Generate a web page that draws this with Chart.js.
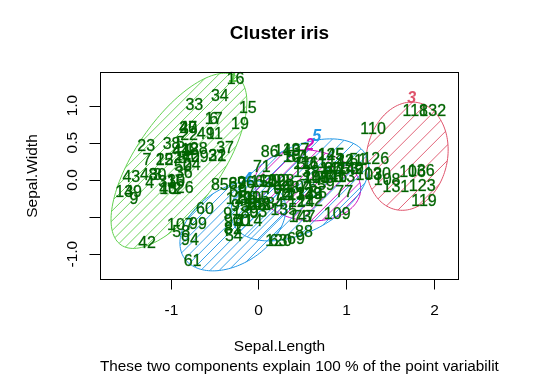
<!DOCTYPE html>
<html>
<head>
<meta charset="utf-8">
<script src="https://cdn.jsdelivr.net/npm/chart.js@4.4.1/dist/chart.umd.min.js"></script>
<style>
  html, body { margin: 0; padding: 0; background: #fff; }
  #wrap { width: 552px; height: 383px; }
</style>
</head>
<body>
<div id="wrap"><canvas id="grafico" width="552" height="383"></canvas></div>
<script>
// first two components for the 150 iris rows
const compX = [
  -0.78, -0.93, -1.15, -1.24, -0.89, -0.51, -1.27, -0.87, -1.42, -0.94,
  -0.50, -1.07, -1.03, -1.53, -0.12, -0.26, -0.51, -0.78, -0.21, -0.80,
  -0.47, -0.79, -1.28, -0.76, -1.07, -0.84, -0.87, -0.68, -0.67, -1.15,
  -1.04, -0.47, -0.73, -0.44, -0.94, -0.85, -0.38, -0.99, -1.43, -0.77,
  -0.88, -1.27, -1.45, -0.88, -0.80, -1.03, -0.80, -1.25, -0.60, -0.86,
  1.14, 0.54, 1.05, -0.28, 0.68, -0.12, 0.43, -0.88, 0.77, -0.61,
  -0.75, 0.06, 0.23, 0.27, -0.23, 0.85, -0.24, -0.01, 0.43, -0.20,
  0.04, 0.28, 0.50, 0.28, 0.57, 0.76, 0.98, 0.86, 0.17, -0.10,
  -0.29, -0.29, -0.01, 0.19, -0.44, 0.13, 0.85, 0.52, -0.24, -0.29,
  -0.30, 0.26, 0.00, -0.78, -0.21, -0.14, -0.13, 0.37, -0.69, -0.12,
  0.43, -0.01, 1.26, 0.47, 0.66, 1.76, -0.89, 1.47, 0.90, 1.31,
  0.64, 0.59, 0.96, -0.10, -0.02, 0.54, 0.66, 1.79, 1.89, 0.23,
  1.04, -0.22, 1.87, 0.49, 0.83, 1.34, 0.38, 0.26, 0.58, 1.36,
  1.57, 1.99, 0.58, 0.48, 0.29, 1.86, 0.43, 0.55, 0.16, 1.05,
  0.85, 1.05, -0.01, 0.94, 0.83, 0.86, 0.50, 0.66, 0.33, 0.06
];
const compY = [
  0.38, -0.14, 0.05, -0.06, 0.47, 0.80, 0.24, 0.27, -0.28, -0.04,
  0.60, 0.25, -0.15, -0.19, 0.94, 1.33, 0.80, 0.38, 0.73, 0.68,
  0.30, 0.58, 0.44, 0.18, 0.25, -0.13, 0.27, 0.39, 0.29, 0.05,
  -0.05, 0.30, 0.98, 1.11, -0.04, 0.07, 0.41, 0.46, -0.18, 0.28,
  0.37, -0.87, 0.02, 0.37, 0.68, -0.15, 0.68, 0.04, 0.59, 0.17,
  0.24, 0.19, 0.13, -0.78, -0.20, -0.27, 0.28, -0.73, -0.09, -0.41,
  -1.12, -0.05, -0.84, -0.13, -0.18, 0.12, -0.08, -0.36, -0.82, -0.58,
  0.15, -0.23, -0.52, -0.23, -0.11, 0.01, -0.18, 0.02, -0.14, -0.47,
  -0.68, -0.68, -0.36, -0.34, -0.09, 0.36, 0.12, -0.72, -0.08, -0.58,
  -0.48, -0.04, -0.46, -0.83, -0.38, -0.07, -0.17, -0.13, -0.62, -0.27,
  0.28, -0.36, 0.05, -0.12, 0.00, 0.09, -0.63, -0.03, -0.48, 0.66,
  0.20, -0.31, 0.02, -0.57, -0.26, 0.19, 0.00, 0.90, -0.30, -0.84,
  0.23, -0.28, -0.10, -0.32, 0.31, 0.26, -0.23, -0.04, -0.21, 0.06,
  -0.12, 0.91, -0.21, -0.22, -0.43, 0.10, 0.38, 0.09, -0.04, 0.13,
  0.12, 0.13, -0.36, 0.22, 0.31, 0.02, -0.52, 0.00, 0.37, -0.05
];
const rowNames = compX.map((_, i) => String(i + 1));

const xTicks = [-1, 0, 1, 2];
const xTickLabels = ["-1", "0", "1", "2"];
const yTicks = [-1, -0.5, 0, 0.5, 1];
const yTickLabels = ["-1.0", "", "0.0", "0.5", "1.0"];

// cluster ellipses: centre + two conjugate half axes, in plot units
const clusterNames = ["1", "2", "3", "4", "5"];
const clusterCx = [-0.906, 0.564, 1.697, -0.291, 0.473];
const clusterCy = [0.256, -0.074, 0.319, -0.620, -0.135];
const clusterAx = [0.661, 0.604, 0.034, 0.547, 0.753];
const clusterAy = [1.132, -0.027, 0.728, 0.445, 0.472];
const clusterBx = [0.405, 0.023, 0.468, 0.256, 0.228];
const clusterBy = [-0.330, -0.478, 0.034, -0.410, -0.499];
const clusterLabelX = [-0.29, 0.587, 1.75, -0.12, 0.667];
const clusterLabelY = [1.37, 0.458, 1.09, 0.0, 0.58];

const clusterColors = ["#61D04F", "#CD0BBC", "#DF536B", "#2297E6", "#2297E6"];
const hatchGap = [7, 7.5, 11, 6.5, 9];

const FONT = '"Liberation Sans", Arial, sans-serif';

function ellipsePoints(xs, ys, k) {
  const pts = [];
  for (let s = 0; s < 144; s++) {
    const t = (s / 144) * 2 * Math.PI;
    const vx = clusterCx[k] + clusterAx[k] * Math.cos(t) + clusterBx[k] * Math.sin(t);
    const vy = clusterCy[k] + clusterAy[k] * Math.cos(t) + clusterBy[k] * Math.sin(t);
    pts.push([xs.getPixelForValue(vx), ys.getPixelForValue(vy)]);
  }
  return pts;
}

const clusplotPlugin = {
  id: "clusplot",
  beforeDatasetsDraw(chart) {
    const ctx = chart.ctx;
    const xs = chart.scales.x, ys = chart.scales.y;
    const area = chart.chartArea;
    ctx.save();
    ctx.beginPath();
    ctx.rect(area.left, area.top, area.right - area.left, area.bottom - area.top);
    ctx.clip();
    clusterNames.forEach((_, k) => {
      const pts = ellipsePoints(xs, ys, k);
      const path = new Path2D();
      pts.forEach((p, i) => (i === 0 ? path.moveTo(p[0], p[1]) : path.lineTo(p[0], p[1])));
      path.closePath();
      const minX = Math.min(...pts.map((p) => p[0])), maxX = Math.max(...pts.map((p) => p[0]));
      const minY = Math.min(...pts.map((p) => p[1])), maxY = Math.max(...pts.map((p) => p[1]));

      // 45 degree shading lines
      ctx.save();
      ctx.clip(path);
      ctx.strokeStyle = clusterColors[k];
      ctx.lineWidth = 0.9;
      const step = hatchGap[k] * Math.SQRT2;
      ctx.beginPath();
      for (let c = minX + minY; c <= maxX + maxY; c += step) {
        ctx.moveTo(c - minY + 2, minY - 2);
        ctx.lineTo(c - maxY - 2, maxY + 2);
      }
      ctx.stroke();
      ctx.restore();

      ctx.strokeStyle = clusterColors[k];
      ctx.lineWidth = 1;
      ctx.stroke(path);
    });

    // cluster numbers, under the row labels
    ctx.font = "italic bold 16px " + FONT;
    ctx.textAlign = "center";
    ctx.textBaseline = "middle";
    clusterNames.forEach((name, k) => {
      ctx.fillStyle = clusterColors[k];
      ctx.fillText(name, xs.getPixelForValue(clusterLabelX[k]), ys.getPixelForValue(clusterLabelY[k]));
    });
    ctx.restore();
  },
  afterDatasetsDraw(chart) {
    const ctx = chart.ctx;
    const xs = chart.scales.x, ys = chart.scales.y;
    const area = chart.chartArea;
    const meta = chart.getDatasetMeta(0);

    // row labels
    ctx.save();
    ctx.font = "16px " + FONT;
    ctx.fillStyle = "#006400";
    ctx.strokeStyle = "rgba(0,100,0,0.55)";
    ctx.lineWidth = 0.5;
    ctx.textAlign = "center";
    ctx.textBaseline = "middle";
    meta.data.forEach((el, i) => {
      ctx.fillText(rowNames[i], el.x, el.y - 1);
      ctx.strokeText(rowNames[i], el.x, el.y - 1);
    });
    ctx.restore();

    // frame and axes
    ctx.save();
    ctx.strokeStyle = "#000";
    ctx.lineWidth = 1;
    const L = Math.round(area.left) + 0.5, R = Math.round(area.right) - 0.5;
    const T = Math.round(area.top) + 0.5, B = Math.round(area.bottom) - 0.5;
    ctx.strokeRect(L, T, R - L, B - T);

    ctx.font = "15.5px " + FONT;
    ctx.fillStyle = "#000";
    ctx.textAlign = "center";
    ctx.textBaseline = "middle";
    ctx.beginPath();
    xTicks.forEach((v, i) => {
      const px = Math.round(xs.getPixelForValue(v)) + 0.5;
      ctx.moveTo(px, B);
      ctx.lineTo(px, B + 10);
      ctx.fillText(xTickLabels[i], px, B + 31);
    });
    yTicks.forEach((v) => {
      const py = Math.round(ys.getPixelForValue(v)) + 0.5;
      ctx.moveTo(L, py);
      ctx.lineTo(L - 11, py);
    });
    ctx.stroke();
    yTicks.forEach((v, i) => {
      if (!yTickLabels[i]) return;
      const py = ys.getPixelForValue(v);
      ctx.save();
      ctx.translate(L - 28, py);
      ctx.rotate(-Math.PI / 2);
      ctx.fillText(yTickLabels[i], 0, 0);
      ctx.restore();
    });

    const midX = (area.left + area.right) / 2;
    const midY = (area.top + area.bottom) / 2;
    ctx.fillText("Sepal.Length", midX, B + 67);
    ctx.save();
    ctx.translate(33, midY);
    ctx.rotate(-Math.PI / 2);
    ctx.fillText("Sepal.Width", 0, 0);
    ctx.restore();

    ctx.textAlign = "left";
    ctx.font = "15.3px " + FONT;
    ctx.fillText("These two components explain 100 % of the point variabilit", 100, 367);

    ctx.textAlign = "center";
    ctx.font = "bold 19px " + FONT;
    ctx.fillText("Cluster iris", midX, 34);
    ctx.restore();
  },
};

const ctx = document.getElementById("grafico").getContext("2d");
new Chart(ctx, {
  type: "scatter",
  data: {
    datasets: [
      {
        data: compX.map((x, i) => ({ x: x, y: compY[i] })),
        pointRadius: 0,
        pointHoverRadius: 0,
        borderWidth: 0,
      },
    ],
  },
  options: {
    responsive: false,
    animation: false,
    devicePixelRatio: 1,
    events: [],
    layout: { padding: { left: 100, top: 72, right: 93, bottom: 103 } },
    scales: {
      x: { type: "linear", min: -1.807, max: 2.29, display: false },
      y: { type: "linear", min: -1.348, max: 1.452, display: false },
    },
    plugins: {
      legend: { display: false },
      tooltip: { enabled: false },
      title: { display: false },
    },
  },
  plugins: [clusplotPlugin],
});
</script>
</body>
</html>
